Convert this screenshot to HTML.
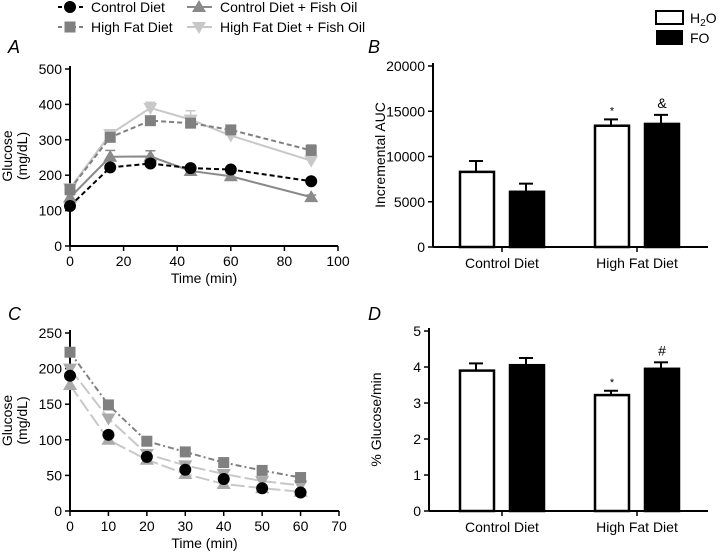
<!DOCTYPE html>
<html><head><meta charset="utf-8"><style>
body{margin:0;background:#fff}
svg{display:block;font-family:"Liberation Sans",Arial,sans-serif}
</style></head><body>
<svg id="fig" width="720" height="555" viewBox="0 0 720 555" xmlns="http://www.w3.org/2000/svg"></svg>
<script>
// Panel A data
const timesA = [0,15,30,45,60,90];
const aControl = [113,222,233,220,216,183];
const aHighFat = [160,307,354,347,328,270];
const aControlFO = [137,252,253,212,197,138];
const aHighFatFO = [163,316,390,357,312,241];
const aHighFatErr = [10,10,12,12,10,15];
const aHighFatFOErr = [10,12,16,25,20,22];
const aControlFOErr = [8,18,16,8,8,6];
const ticksAx = [0,20,40,60,80,100];
const ticksAy = [0,100,200,300,400,500];
// Panel C data
const timesC = [0,10,20,30,40,50,60];
const cControl = [190,107,76,58,45,32,26];
const cHighFat = [223,149,98,83,68,57,47];
const cControlFO = [177,100,72,52,38,32,27];
const cHighFatFO = [200,130,80,64,52,42,36];
const ticksCx = [0,10,20,30,40,50,60,70];
const ticksCy = [0,50,100,150,200,250];
// Panel B data
const groups = ["Control Diet","High Fat Diet"];
const bH2O = [8300,13400];
const bFO = [6100,13600];
const bH2OErr = [1200,700];
const bFOErr = [900,1000];
const ticksBy = [0,5000,10000,15000,20000];
const bMarks = ["*","&"];
// Panel D data
const dH2O = [3.9,3.22];
const dFO = [4.05,3.95];
const dH2OErr = [0.2,0.12];
const dFOErr = [0.2,0.18];
const ticksDy = [0,1,2,3,4,5];
const dMarks = ["*","#"];

const NS="http://www.w3.org/2000/svg";
const svg=document.getElementById('fig');
function mk(tag,attrs,parent,text){const e=document.createElementNS(NS,tag);for(const k in attrs)e.setAttribute(k,attrs[k]);if(text!==undefined)e.textContent=text;(parent||svg).appendChild(e);return e;}

function axes(g,x0,x1,y0,y1,xt,yt,xs,ys,xlab,ylabLines,name){
  let e=mk('line',{x1:x0,y1:y0,x2:x0,y2:y1,stroke:'#000','stroke-width':2},g);
  
  e=mk('line',{x1:x0,y1:y0,x2:x1,y2:y0,stroke:'#000','stroke-width':2},g);
  
  yt.forEach(v=>{const y=ys(v);mk('line',{x1:x0-5,y1:y,x2:x0,y2:y,stroke:'#000','stroke-width':1.5},g);
    e=mk('text',{x:x0-8,y:y+5,'text-anchor':'end','font-size':14},g,v);
    });
  if(xt) xt.forEach(v=>{const x=xs(v);mk('line',{x1:x,y1:y0,x2:x,y2:y0+5,stroke:'#000','stroke-width':1.5},g);
    e=mk('text',{x:x,y:y0+20,'text-anchor':'middle','font-size':14},g,v);
    });
  if(xlab){e=mk('text',{x:(x0+x1)/2,y:y0+37,'text-anchor':'middle','font-size':14},g,xlab);
    }
  const cy=(y0+y1)/2;
  ylabLines.forEach((t,i)=>{const xx=ylabLines.length===1?x0-48:x0-58+i*15;
    e=mk('text',{x:xx,y:cy,'text-anchor':'middle','font-size':14,transform:`rotate(-90 ${xx} ${cy})`},g,t);
    });
}
function marker(g,type,x,y,col){
  if(type==='circle')return mk('circle',{cx:x,cy:y,r:6,fill:col},g);
  if(type==='square')return mk('rect',{x:x-5.5,y:y-5.5,width:11,height:11,fill:col},g);
  if(type==='up')return mk('polygon',{points:`${x},${y-7} ${x-7},${y+5} ${x+7},${y+5}`,fill:col},g);
  return mk('polygon',{points:`${x},${y+7} ${x-7},${y-5} ${x+7},${y-5}`,fill:col},g);
}
function series(g,xs,ys,tx,vals,errs,col,dash,type,name,w){
  const pts=tx.map((t,i)=>xs(t)+','+ys(vals[i])).join(' ');
  let e=mk('polyline',{points:pts,fill:'none',stroke:(w===0?'none':col),'stroke-width':(w===undefined?2:w),'stroke-dasharray':dash||'none'},g);
  
  tx.forEach((t,i)=>{
    if(errs){const x=xs(t),y=ys(vals[i]),ye=ys(vals[i]+errs[i]);
      mk('line',{x1:x,y1:y,x2:x,y2:ye,stroke:col,'stroke-width':1.5},g);
      mk('line',{x1:x-5,y1:ye,x2:x+5,y2:ye,stroke:col,'stroke-width':1.5},g);}
    e=marker(g,type,xs(t),ys(vals[i]),col);
    });
}
const C1='#000',C2='#808080',C3='#8a8a8a',C4='#c8c8c8';
// Legend
const lg=mk('g',{});
[[58,7,C1,'4,3','circle','Control Diet'],[58,27,C2,'4,3','square','High Fat Diet'],[187,7,C3,'none','up','Control Diet + Fish Oil'],[187,27,C4,'none','down','High Fat Diet + Fish Oil']].forEach(r=>{
  const[x,y,c,d,t,l]=r;const le=mk('g',{},lg);
  mk('line',{x1:x,y1:y,x2:x+25,y2:y,stroke:c,'stroke-width':2,'stroke-dasharray':d},le);
  marker(le,t,x+12,y,c);mk('text',{x:x+33,y:y+5,'font-size':14},le,l);});
// Panel letters
[['A',8,53],['B',368,53],['C',8,320],['D',368,320]].forEach(p=>{const e=mk('text',{x:p[1],y:p[2],'font-size':18,'font-style':'italic'},svg,p[0]);});
// Panel A
const gA=mk('g',{});
const axA=v=>70+v*(338-70)/100, ayA=v=>246-v*(246-69)/500;
axes(gA,70,338,246,66,ticksAx,ticksAy,axA,ayA,'Time (min)',['Glucose','(mg/dL)'],'panel-a');
series(gA,axA,ayA,timesA,aControlFO,aControlFOErr,C3,null,'up','control-fish-oil');
series(gA,axA,ayA,timesA,aHighFatFO,aHighFatFOErr,C4,null,'down','high-fat-fish-oil');
series(gA,axA,ayA,timesA,aHighFat,aHighFatErr,C2,'5,3','square','high-fat');
series(gA,axA,ayA,timesA,aControl,null,C1,'5,3','circle','control');
// Panel C
const gC=mk('g',{});
const axC=v=>70+v*(339-70)/70, ayC=v=>511-v*(511-333)/250;
axes(gC,70,339,511,330,ticksCx,ticksCy,axC,ayC,'Time (min)',['Glucose','(mg/dL)'],'panel-c');
series(gC,axC,ayC,timesC,cControlFO,null,C4,'14,4','up','c-control-fish-oil');
series(gC,axC,ayC,timesC,cHighFatFO,null,C4,'14,4','down','c-high-fat-fish-oil');
series(gC,axC,ayC,timesC,cHighFat,null,C2,'6,3,2,3','square','c-high-fat');
series(gC,axC,ayC,timesC,cControl,null,C1,'none','circle','c-control',0);
gC.querySelectorAll('polygon').forEach(p=>{if(p.getAttribute('fill')===C4&&p.getAttribute('points'))p.setAttribute('fill','#aaa');});
// Bar panels
function bars(name,x0,x1,y0,y1,ys,yt,h,f,he,fe,marks,ylab){
  const g=mk('g',{});
  axes(g,x0,x1,y0,y1,null,yt,null,ys,null,[ylab],name);
  const centers=[502,637];
  groups.forEach((gr,i)=>{const c=centers[i];
    mk('line',{x1:c,y1:y0,x2:c,y2:y0+5,stroke:'#000','stroke-width':1.5},g);
    let e=mk('text',{x:c,y:y0+21,'text-anchor':'middle','font-size':14},g,gr);
    
    [[h,he,'#fff',c-43],[f,fe,'#000',c+7]].forEach((b,k)=>{
      const top=ys(b[0][i]),et=ys(b[0][i]+b[1][i]),bx=b[3];
      mk('line',{x1:bx+17,y1:top,x2:bx+17,y2:et,stroke:'#000','stroke-width':2},g);
      mk('line',{x1:bx+10,y1:et,x2:bx+24,y2:et,stroke:'#000','stroke-width':2},g);
      e=mk('rect',{x:bx+1,y:top,width:34,height:y0-top,fill:b[2],stroke:'#000','stroke-width':2.5},g);
      
      if(i===1){e=mk('text',{x:bx+18,y:et-(k?7:5),'text-anchor':'middle','font-size':k?14:11},g,marks[k]);
        }
    });});
}
bars('panel-b',433,708,247,63,v=>247-v*(247-66)/20000,ticksBy,bH2O,bFO,bH2OErr,bFOErr,bMarks,'Incremental AUC');
bars('panel-d',429,708,511,328,v=>511-v*(511-331)/5,ticksDy,dH2O,dFO,dH2OErr,dFOErr,dMarks,'% Glucose/min');
// Bar legend
const bl=mk('g',{});
let e=mk('g',{},bl);
mk('rect',{x:656,y:11,width:27,height:13,fill:'#fff',stroke:'#000','stroke-width':2},e);
const t=mk('text',{x:690,y:23,'font-size':14},e);t.innerHTML='H<tspan font-size="10" dy="3">2</tspan><tspan dy="-3">O</tspan>';
e=mk('g',{},bl);
mk('rect',{x:656,y:30,width:27,height:15,fill:'#000'},e);mk('text',{x:690,y:43,'font-size':14},e,'FO');
</script>
</body></html>
